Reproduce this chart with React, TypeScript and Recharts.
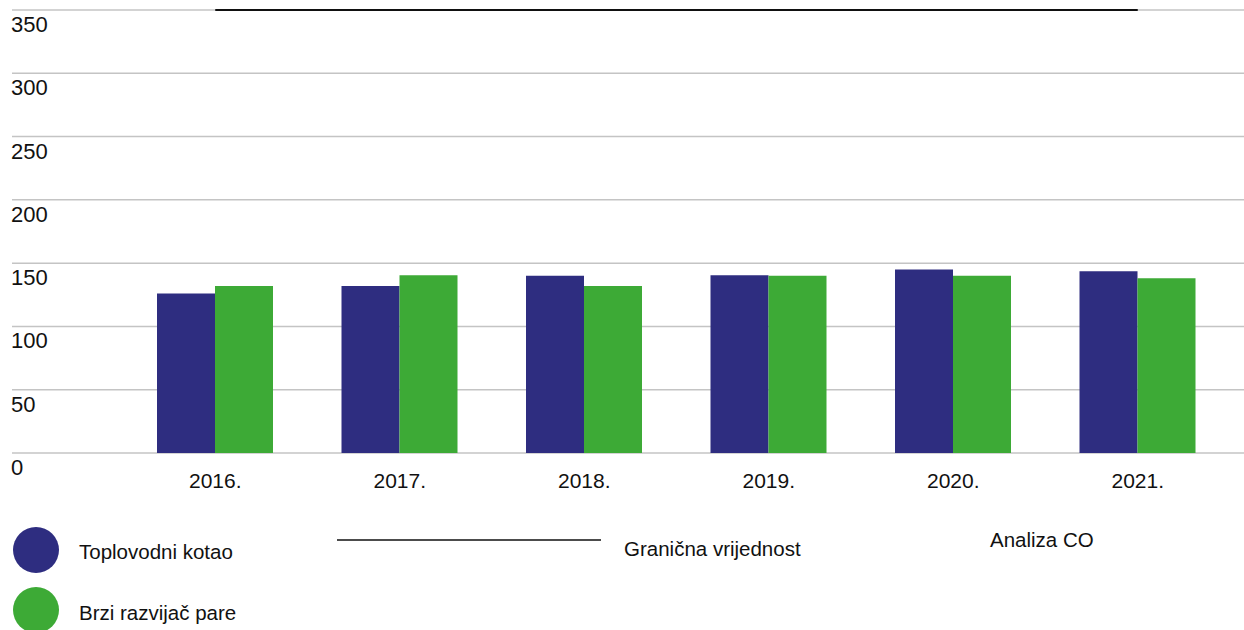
import React from "react";
import { ComposedChart, Bar, Line, XAxis, YAxis, CartesianGrid } from "recharts";

const years = ["2016.", "2017.", "2018.", "2019.", "2020.", "2021."];
const toplovodniKotao = [126, 132, 140, 140.5, 145, 143.5];
const brziRazvijacPare = [132, 140.5, 132, 140, 140, 138];
const granicnaVrijednost = [350, 350, 350, 350, 350, 350];
const yTicks = [0, 50, 100, 150, 200, 250, 300, 350];

const BLUE = "#2E2D80";
const GREEN = "#3DAA36";
const FONT = "'Liberation Sans', Arial, Helvetica, sans-serif";

const data = years.map((year, i) => ({
  year,
  kotao: toplovodniKotao[i],
  razvijac: brziRazvijacPare[i],
  limit: granicnaVrijednost[i],
}));

const YTick = ({ y, payload }: any) => (
  <text x={11} y={y + 22} fontSize={22} fill="#111" fontFamily={FONT} textAnchor="start">
    {payload.value}
  </text>
);

const XTick = ({ x, payload }: any) => (
  <text x={x} y={488} fontSize={21} fill="#111" fontFamily={FONT} textAnchor="middle">
    {payload.value}
  </text>
);

const App = () => {
  return (
    <div style={{ position: "absolute", left: 0, top: 0, width: 1244, height: 630, overflow: "hidden", background: "#fff" }}>
      <ComposedChart
        width={1244}
        height={630}
        data={data}
        margin={{ top: 10, right: 0, bottom: 137, left: 11 }}
        barGap={0}
      >
        <CartesianGrid vertical={false} stroke="#c4c4c4" strokeWidth={1.5} />
        <XAxis
          dataKey="year"
          axisLine={false}
          tickLine={false}
          interval={0}
          height={40}
          padding={{ left: 111, right: 14 }}
          tick={<XTick />}
        />
        <YAxis
          domain={[0, 350]}
          ticks={yTicks}
          interval={0}
          width={1}
          axisLine={false}
          tickLine={false}
          tick={<YTick />}
        />
        <Bar dataKey="kotao" fill={BLUE} barSize={58} isAnimationActive={false} />
        <Bar dataKey="razvijac" fill={GREEN} barSize={58} isAnimationActive={false} />
        <Line
          dataKey="limit"
          type="linear"
          stroke="#111"
          strokeWidth={2}
          dot={false}
          activeDot={false}
          isAnimationActive={false}
        />
      </ComposedChart>
      <svg width={1244} height={130} style={{ position: "absolute", left: 0, top: 500 }}>
        <g fontFamily={FONT} fontSize={20.5} fill="#111">
          <circle cx={36} cy={50} r={23} fill={BLUE} />
          <text x={79} y={59}>Toplovodni kotao</text>
          <circle cx={36} cy={110} r={23} fill={GREEN} />
          <text x={79} y={120}>Brzi razvijač pare</text>
          <line x1={337} x2={601} y1={40} y2={40} stroke="#111" strokeWidth={1.5} />
          <text x={624} y={56}>Granična vrijednost</text>
          <text x={990} y={47}>Analiza CO</text>
        </g>
      </svg>
    </div>
  );
};

export default App;
